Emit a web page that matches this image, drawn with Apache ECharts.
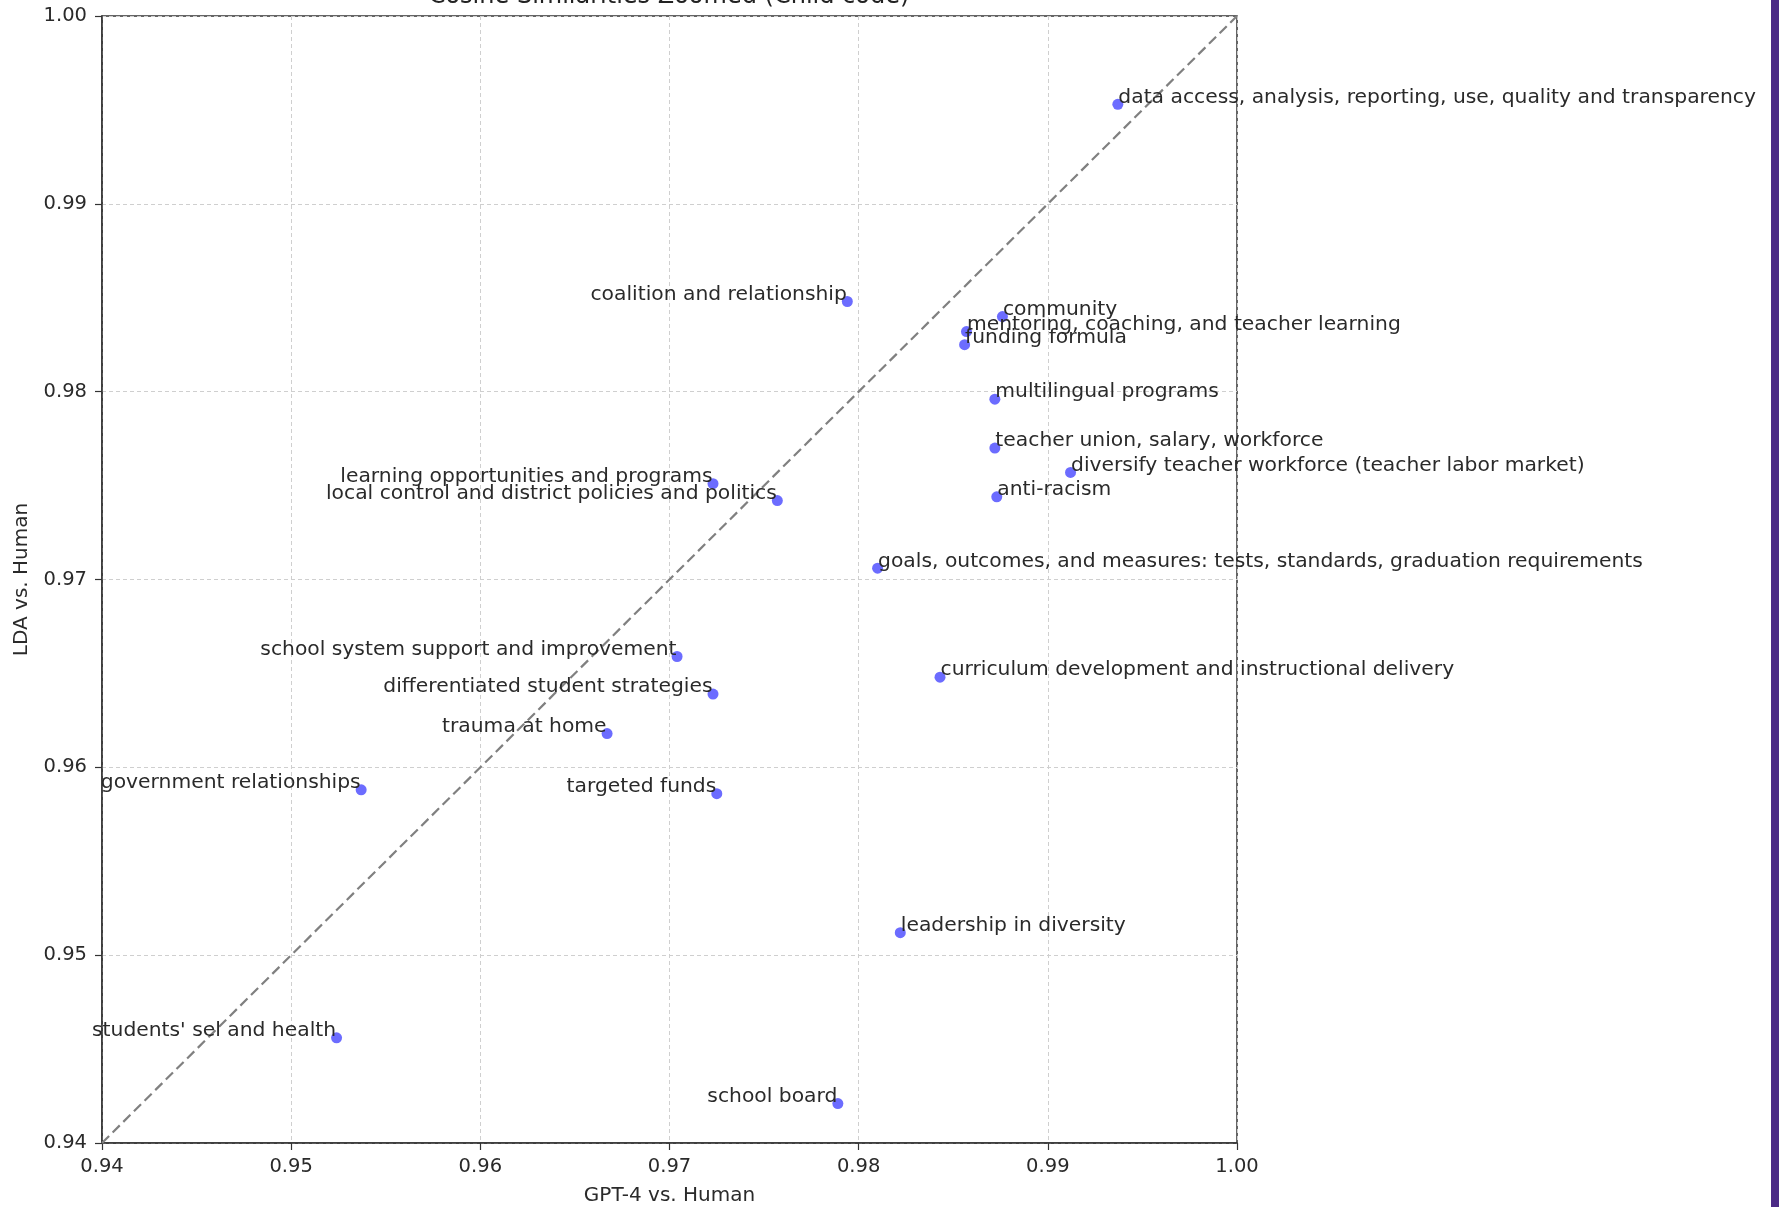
<!DOCTYPE html>
<html>
<head>
<meta charset="utf-8">
<title>Cosine Similarities Zoomed (Child code)</title>
<script src="https://cdn.jsdelivr.net/npm/echarts@6/dist/echarts.min.js"></script>
<style>
  html, body { margin: 0; padding: 0; background: #ffffff; }
  #chart { width: 1779px; height: 1207px; }
</style>
</head>
<body>
<div id="chart"></div>
<script>
// Child-code topics with their cosine similarities
const topics = [
  "data access, analysis, reporting, use, quality and transparency",
  "coalition and relationship",
  "community",
  "mentoring, coaching, and teacher learning",
  "funding formula",
  "multilingual programs",
  "teacher union, salary, workforce",
  "diversify teacher workforce (teacher labor market)",
  "anti-racism",
  "learning opportunities and programs",
  "local control and district policies and politics",
  "goals, outcomes, and measures: tests, standards, graduation requirements",
  "school system support and improvement",
  "curriculum development and instructional delivery",
  "differentiated student strategies",
  "trauma at home",
  "government relationships",
  "targeted funds",
  "leadership in diversity",
  "students' sel and health",
  "school board"
];
// GPT-4 vs. Human similarity (x)
const gptVsHuman = [
  0.9937, 0.9794, 0.9876, 0.9857, 0.9856, 0.9872, 0.9872, 0.9912, 0.9873,
  0.9723, 0.9757, 0.9810, 0.9704, 0.9843, 0.9723, 0.9667, 0.9537, 0.9725,
  0.9822, 0.9524, 0.9789
];
// LDA vs. Human similarity (y)
const ldaVsHuman = [
  0.9953, 0.9848, 0.9840, 0.9832, 0.9825, 0.9796, 0.9770, 0.9757, 0.9744,
  0.9751, 0.9742, 0.9706, 0.9659, 0.9648, 0.9639, 0.9618, 0.9588, 0.9586,
  0.9512, 0.9456, 0.9421
];
// Axis range and ticks
const axisMin = 0.94;
const axisMax = 1.00;
const tickStep = 0.01;
const diagonal = [[axisMin, axisMin], [axisMax, axisMax]];

const FONT = "'DejaVu Sans', 'Liberation Sans', sans-serif";
const TEXT = '#2a2a2a';
const DOT = 10;

// Topics below 0.98 on x get their label ending at the point,
// the others get it starting there; the baseline sits on the point.
const leftPts = [];
const rightPts = [];
topics.forEach((name, i) => {
  const item = { name: name, value: [gptVsHuman[i], ldaVsHuman[i]] };
  (gptVsHuman[i] < 0.98 ? leftPts : rightPts).push(item);
});

const chart = echarts.init(document.getElementById('chart'), null, { renderer: 'canvas' });

const axisCommon = {
  type: 'value',
  min: axisMin,
  max: axisMax,
  interval: tickStep,
  nameLocation: 'middle',
  nameTextStyle: { fontFamily: FONT, fontSize: 20, color: TEXT },
  axisLine: { show: true, onZero: false, lineStyle: { color: '#333', width: 1.5 } },
  axisTick: { show: true, inside: false, length: 7, lineStyle: { color: '#333', width: 1.2 } },
  axisLabel: {
    fontFamily: FONT, fontSize: 19.5, color: TEXT,
    formatter: v => v.toFixed(2)
  },
  splitLine: { show: true, lineStyle: { color: '#cfcfcf', width: 1, type: [4, 3] } }
};

function pointSeries(data, side) {
  return {
    type: 'scatter',
    data: data,
    symbol: 'circle',
    symbolSize: DOT + 1,
    itemStyle: { color: 'rgba(0, 0, 255, 0.72)' },
    label: {
      show: true,
      position: side,
      distance: 0,
      offset: [side === 'left' ? DOT / 2 : -DOT / 2, -7],
      formatter: p => p.name,
      fontFamily: FONT,
      fontSize: 20.3,
      color: TEXT,
      opacity: 1
    },
    z: 3
  };
}

chart.setOption({
  animation: false,
  backgroundColor: '#ffffff',
  grid: {
    left: 102, right: 542, top: 16, bottom: 64,
    outerBoundsMode: 'none',
    containLabel: false,
    show: true, borderColor: '#333', borderWidth: 1.5, backgroundColor: 'transparent'
  },
  xAxis: Object.assign({}, axisCommon, {
    name: 'GPT-4 vs. Human',
    nameGap: 43,
    axisLabel: Object.assign({}, axisCommon.axisLabel, { margin: 14 })
  }),
  yAxis: Object.assign({}, axisCommon, {
    name: 'LDA vs. Human',
    nameGap: 70,
    axisLabel: Object.assign({}, axisCommon.axisLabel, { margin: 15 })
  }),
  graphic: [
    {
      type: 'text',
      x: 669,
      y: 9,
      style: {
        text: 'Cosine Similarities Zoomed (Child code)',
        font: "normal 24px 'DejaVu Sans', sans-serif",
        fill: '#222',
        align: 'center',
        verticalAlign: 'bottom'
      },
      z: 50
    },
    {
      type: 'rect',
      shape: { x: 1771, y: 0, width: 8, height: 1207 },
      style: { fill: '#4b2a86' },
      z: 100
    }
  ],
  series: [
    {
      type: 'line',
      data: diagonal,
      symbol: 'none',
      silent: true,
      lineStyle: { color: '#808080', width: 2.2, type: [10, 5] },
      z: 2
    },
    pointSeries(leftPts, 'left'),
    pointSeries(rightPts, 'right')
  ]
});
</script>
</body>
</html>
